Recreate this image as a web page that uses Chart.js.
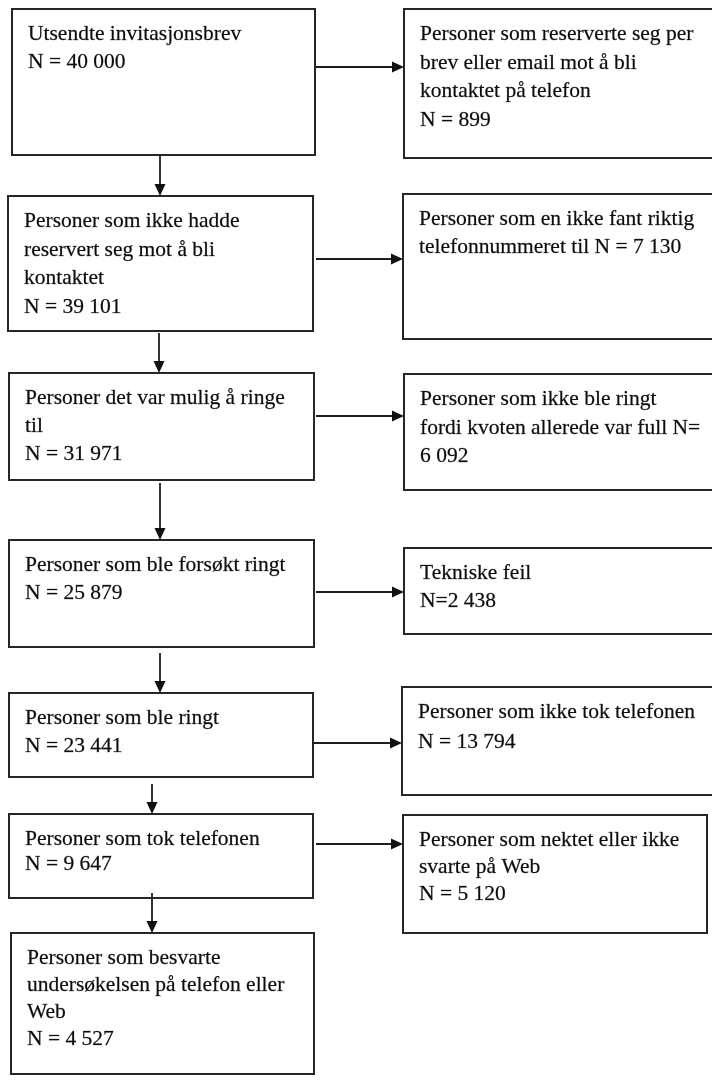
<!DOCTYPE html>
<html>
	<head>
		<meta charset="UTF-8" />
		<title>Flytskjema utvalg</title>
		<script src="https://cdn.jsdelivr.net/npm/chart.js@4/dist/chart.umd.min.js"></script>
		<style type="text/css">
			body {
				margin: 0;
				background: #ffffff;
			}
			.chartBox {
				width: 712px;
				height: 1080px;
			}
		</style>
	</head>
	<body>
		<div class="chartBox">
			<canvas id="myChart" width="712" height="1080"></canvas>
		</div>

		<script>
			// text in the main column (top to bottom)
			var leftLabels = [
				['Utsendte invitasjonsbrev', 'N = 40 000'],
				['Personer som ikke hadde', 'reservert seg mot å bli', 'kontaktet', 'N = 39 101'],
				['Personer det var mulig å ringe', 'til', 'N = 31 971'],
				['Personer som ble forsøkt ringt', 'N = 25 879'],
				['Personer som ble ringt', 'N = 23 441'],
				['Personer som tok telefonen', 'N = 9 647'],
				['Personer som besvarte', 'undersøkelsen på telefon eller', 'Web', 'N = 4 527']
			];
			// text in the side boxes (the ones that drop out)
			var rightLabels = [
				['Personer som reserverte seg per', 'brev eller email mot å bli', 'kontaktet på telefon', 'N = 899'],
				['Personer som en ikke fant riktig', 'telefonnummeret til N = 7 130'],
				['Personer som ikke ble ringt', 'fordi kvoten allerede var full N=', '6 092'],
				['Tekniske feil', 'N=2 438'],
				['Personer som ikke tok telefonen', 'N = 13 794'],
				['Personer som nektet eller ikke', 'svarte på Web', 'N = 5 120']
			];
		</script>

		<script>
			// layout, in scale units (x: 0-712, y: 0-1080 top down)
			var leftBoxes = [
				{x0: 12, x1: 315, y0: 9, y1: 155, gap: 28},
				{x0: 8, x1: 313, y0: 196, y1: 331, gap: 28.5},
				{x0: 9, x1: 314, y0: 373, y1: 480, gap: 28},
				{x0: 9, x1: 314, y0: 540, y1: 647, gap: 28},
				{x0: 9, x1: 313, y0: 693, y1: 777, gap: 28},
				{x0: 9, x1: 313, y0: 814, y1: 898, gap: 25},
				{x0: 11, x1: 314, y0: 933, y1: 1074, gap: 27}
			];
			var rightBoxes = [
				{x0: 404, x1: 716, y0: 9, y1: 158, gap: 28.5},
				{x0: 403, x1: 716, y0: 194, y1: 339, gap: 28},
				{x0: 404, x1: 716, y0: 374, y1: 490, gap: 28.5},
				{x0: 404, x1: 716, y0: 548, y1: 634, gap: 28},
				{x0: 402, x1: 716, y0: 687, y1: 795, gap: 30},
				{x0: 403, x1: 707, y0: 815, y1: 933, gap: 27}
			];
			// side arrows: y level, from x, to x
			var sideArrows = [
				[67, 315, 404], [259, 316, 403], [416, 316, 404],
				[592, 316, 404], [743, 312, 402], [844, 316, 403]
			];
			// down arrows: x, from y, to y
			var downArrows = [
				[160, 155, 196], [159, 333, 373], [160, 483, 540],
				[160, 653, 693], [152, 784, 814], [152, 893, 933]
			];

			const flowPlugin = {
				id: 'flow',
				afterDraw(chart) {
					const ctx = chart.ctx;
					const xs = chart.scales.x;
					const ys = chart.scales.y;
					const px = v => xs.getPixelForValue(v);
					const py = v => ys.getPixelForValue(v);

					ctx.save();

					function drawBox(b, lines) {
						ctx.strokeStyle = '#262626';
						ctx.lineWidth = 2;
						ctx.strokeRect(px(b.x0), py(b.y0), px(b.x1) - px(b.x0), py(b.y1) - py(b.y0));
						ctx.fillStyle = '#0d0d0d';
						ctx.strokeStyle = 'rgba(13,13,13,0.55)';
						ctx.lineWidth = 0.4;
						ctx.font = '21.5px "Liberation Serif", "Times New Roman", serif';
						ctx.textBaseline = 'alphabetic';
						ctx.textAlign = 'left';
						lines.forEach(function (t, i) {
							const tx = px(b.x0) + 16, ty = py(b.y0) + 31 + i * b.gap;
							ctx.fillText(t, tx, ty);
							ctx.strokeText(t, tx, ty);
						});
					}

					for (let i = 0; i < leftLabels.length; i++) drawBox(leftBoxes[i], leftLabels[i]);
					for (let i = 0; i < rightLabels.length; i++) drawBox(rightBoxes[i], rightLabels[i]);

					ctx.strokeStyle = '#1e1e1e';
					ctx.fillStyle = '#111';
					ctx.lineWidth = 1.8;
					//horizontal arrows
					sideArrows.forEach(function (a) {
						const yy = py(a[0]), xa = px(a[1]), xb = px(a[2]);
						ctx.beginPath();
						ctx.moveTo(xa, yy);
						ctx.lineTo(xb - 9, yy);
						ctx.stroke();
						ctx.beginPath();
						ctx.moveTo(xb, yy);
						ctx.lineTo(xb - 12, yy - 5.5);
						ctx.lineTo(xb - 12, yy + 5.5);
						ctx.closePath();
						ctx.fill();
					});
					//vertical arrows
					downArrows.forEach(function (a) {
						const xx = px(a[0]), ya = py(a[1]), yb = py(a[2]);
						ctx.beginPath();
						ctx.moveTo(xx, ya);
						ctx.lineTo(xx, yb - 9);
						ctx.stroke();
						ctx.beginPath();
						ctx.moveTo(xx, yb);
						ctx.lineTo(xx - 5.5, yb - 12);
						ctx.lineTo(xx + 5.5, yb - 12);
						ctx.closePath();
						ctx.fill();
					});
					ctx.restore();
				}
			};

			const ctx = document.getElementById('myChart').getContext('2d');
			const myChart = new Chart(ctx, {
				type: 'scatter',
				data: { datasets: [] },
				options: {
					responsive: false,
					animation: false,
					layout: { padding: 0 },
					plugins: {
						legend: { display: false },
						tooltip: { enabled: false }
					},
					scales: {
						x: { type: 'linear', min: 0, max: 712, display: false },
						y: { type: 'linear', min: 0, max: 1080, reverse: true, display: false }
					}
				},
				plugins: [flowPlugin]
			});
		</script>
	</body>
</html>
